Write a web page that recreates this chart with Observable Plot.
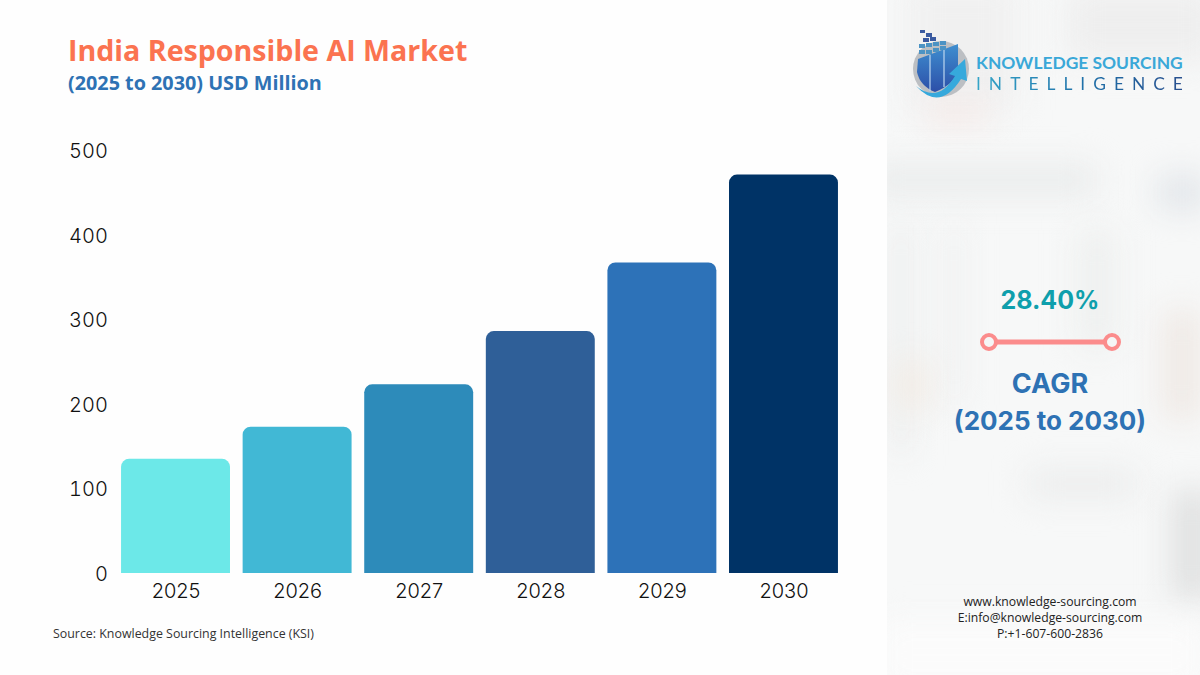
<!DOCTYPE html>
<html>
<head>
<meta charset="utf-8">
<script src="https://cdn.jsdelivr.net/npm/d3@7"></script>
<script src="https://cdn.jsdelivr.net/npm/@observablehq/plot@0.6"></script>
<style>
html,body{margin:0;padding:0;background:#fefefe;}
#page{position:relative;width:1200px;height:675px;overflow:hidden;background:#fefefe;font-family:"Open Sans",sans-serif;}
#panel{position:absolute;left:887px;top:0;width:313px;height:675px;overflow:hidden;background:#f7f8f8;}
.blob{position:absolute;filter:blur(16px);}
.t{position:absolute;white-space:nowrap;}
#chart{position:absolute;left:0;top:0;}
#chart svg{display:block;background:transparent;}
</style>
</head>
<body>
<div id="page">
  <div id="panel">
    <div class="blob" style="left:20px;top:-20px;width:110px;height:130px;background:#f0f0f0"></div>
    <div class="blob" style="left:180px;top:-10px;width:150px;height:70px;background:#eeeeee"></div>
    <div class="blob" style="left:40px;top:104px;width:60px;height:18px;background:#f5e6e3"></div>
    <div class="blob" style="left:-20px;top:165px;width:230px;height:30px;background:#e9ebeb"></div>
    <div class="blob" style="left:270px;top:175px;width:50px;height:35px;background:#e1e5e9"></div>
    <div class="blob" style="left:5px;top:225px;width:18px;height:230px;background:#eaecec"></div>
    <div class="blob" style="left:60px;top:225px;width:14px;height:180px;background:#edeeee"></div>
    <div class="blob" style="left:10px;top:360px;width:30px;height:50px;background:#f2ebe4"></div>
    <div class="blob" style="left:275px;top:310px;width:40px;height:110px;background:#efe9e5"></div>
    <div class="blob" style="left:190px;top:230px;width:40px;height:120px;background:#eef0ef"></div>
    <div class="blob" style="left:140px;top:470px;width:110px;height:28px;background:#ebecec"></div>
    <div class="blob" style="left:285px;top:490px;width:40px;height:110px;background:#dfe0e0"></div>
    <div class="blob" style="left:-10px;top:620px;width:330px;height:70px;background:#fbfbfb"></div>
  </div>
  <div class="t" style="left:68px;top:30px;font-size:28.6px;font-weight:700;color:#fb7350;line-height:40px">India Responsible AI Market</div>
  <div class="t" style="left:68px;top:69px;font-size:19.8px;font-weight:700;color:#2e72b4;line-height:28px">(2025 to 2030) USD Million</div>
  <div id="chart"></div>
  <div class="t" style="left:53px;top:625px;font-size:12.4px;color:#333;line-height:18px">Source: Knowledge Sourcing Intelligence (KSI)</div>

  <svg style="position:absolute;left:905px;top:25px" width="72" height="80" viewBox="905 25 72 80">
    <defs>
      <linearGradient id="sh" x1="0" y1="0" x2="0" y2="1"><stop offset="0" stop-color="#3f8fd0"/><stop offset="1" stop-color="#2c4fa8"/></linearGradient>
    </defs>
    <circle cx="941" cy="69" r="28" fill="#bcbfc3"/>
    <path d="M918 59 L958 44 L958 70 Q955 84 935 92 Q920 86 917 72 Z" fill="url(#sh)"/>
    <path d="M930 55 V91 M944 50 V87" stroke="#bcd6ef" stroke-width="1.2"/>
    <path d="M916 86 Q938 104 955 76 L949 74 L965 59 L967 81 L961 79 Q940 112 916 86 Z" fill="#36a9dc"/>
    <g fill="#4c93c4">
      <rect x="919" y="50" width="6" height="4"/><rect x="926" y="50" width="6" height="4"/><rect x="933" y="48" width="6" height="4"/><rect x="940" y="46" width="6" height="4"/>
      <rect x="919" y="44" width="6" height="4"/><rect x="926" y="43" width="6" height="4"/><rect x="933" y="42" width="6" height="4"/><rect x="940" y="41" width="6" height="4"/>
    </g>
    <g fill="#3a5aa0"><rect x="923" y="38" width="6" height="4"/><rect x="930" y="37" width="6" height="4"/><rect x="926" y="33" width="6" height="4"/><rect x="920" y="30" width="5" height="3"/></g>
  </svg>
  <div class="t" style="left:976px;top:51px;font-size:17.4px;font-weight:700;color:#3aa8d8;line-height:24px;font-family:Lato,sans-serif">KNOWLEDGE SOURCING</div>
  <div class="t" style="left:976px;top:72px;font-size:17.4px;line-height:24px;letter-spacing:8px;padding-right:8px;font-family:Lato,sans-serif;background:linear-gradient(90deg,#35a5c8,#1e6fa8 50%,#2a4a8a);-webkit-background-clip:text;background-clip:text;color:transparent">INTELLIGENCE</div>

  <div class="t" style="left:1050px;top:284px;transform:translateX(-50%);font-size:25px;font-weight:700;color:#0f9fac;line-height:32px;font-family:Inter,sans-serif">28.40%</div>
  <svg style="position:absolute;left:975px;top:328px" width="150" height="28">
    <line x1="14" y1="14" x2="137" y2="14" stroke="#fb8c8c" stroke-width="5"/>
    <circle cx="14" cy="14" r="7" fill="#f5f6f6" stroke="#fb8c8c" stroke-width="4"/>
    <circle cx="137" cy="14" r="7" fill="#f5f6f6" stroke="#fb8c8c" stroke-width="4"/>
  </svg>
  <div class="t" style="left:1050px;top:366px;transform:translateX(-50%);font-size:27px;font-weight:700;color:#2e72b4;line-height:36px;font-family:Inter,sans-serif">CAGR</div>
  <div class="t" style="left:1050px;top:403px;transform:translateX(-50%);font-size:26px;font-weight:700;color:#2e72b4;line-height:36px;font-family:Inter,sans-serif">(2025 to 2030)</div>

  <div class="t" style="left:1050px;top:594px;transform:translateX(-50%);font-size:12.2px;color:#222;line-height:16px">www.knowledge-sourcing.com</div>
  <div class="t" style="left:1050px;top:610px;transform:translateX(-50%);font-size:12.2px;color:#222;line-height:16px">E:info@knowledge-sourcing.com</div>
  <div class="t" style="left:1050px;top:626px;transform:translateX(-50%);font-size:12.2px;color:#222;line-height:16px">P:+1-607-600-2836</div>
</div>
<script>
const years = ["2025","2026","2027","2028","2029","2030"];
const marketValues = [135, 173, 223, 286, 367, 471];
const barColors = ["#6ce8e8","#41b8d5","#2d8bba","#2f5f98","#2d72b8","#003366"];
const yTicks = [0,100,200,300,400,500];
const rows = years.map((year,i)=>({year,value:marketValues[i]}));

const chart = Plot.plot({
  width: 860,
  height: 620,
  marginLeft: 108.4,
  marginRight: 9.4,
  marginTop: 150,
  marginBottom: 47,
  style: {background:"transparent", fontFamily:"Inter, sans-serif", fontSize:"20px", color:"#111"},
  x: {type:"band", domain: years, padding: 0.104, round:false, label:null},
  y: {domain:[0,500], label:null},
  color: {type:"ordinal", domain: years, range: barColors},
  marks: [
    Plot.barY(rows,{x:"year",y:"value",fill:"year",rx1y1:8,rx2y1:8}),
    Plot.axisX({tickSize:0,tickPadding:10,fontSize:20,fontWeight:300,label:null}),
    Plot.axisY({ticks:yTicks,tickSize:0,tickPadding:1,fontSize:20,fontWeight:300,dy:1,label:null,tickFormat:d=>String(d)})
  ]
});
document.getElementById("chart").appendChild(chart);
</script>
</body>
</html>
